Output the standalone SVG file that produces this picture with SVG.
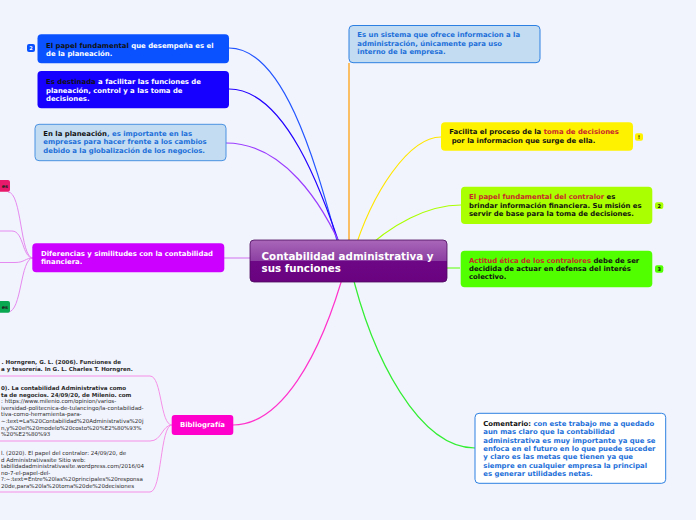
<svg xmlns="http://www.w3.org/2000/svg" width="696" height="520" viewBox="0 0 696 520">
<defs>
<linearGradient id="cg" x1="0" y1="0" x2="0" y2="1">
<stop offset="0" stop-color="#a967b9"/>
<stop offset="0.5" stop-color="#8c3fa2"/>
<stop offset="0.5" stop-color="#6e0785"/>
<stop offset="1" stop-color="#6a0280"/>
</linearGradient>
</defs>
<style>
.t{font-family:"DejaVu Sans",Verdana,sans-serif;font-weight:bold;font-size:6.9px}
.bib{font-family:"DejaVu Sans",Verdana,sans-serif;font-size:5.55px;fill:#2a2a2a}
.bb{font-weight:bold}
.w{fill:#ffffff}
.k{fill:#111111}
.b{fill:#1c6fd9}
.r{fill:#c8282a}
.c{fill:none;stroke-width:1.2}
.badge{font-family:"DejaVu Sans",Verdana,sans-serif;font-weight:bold;font-size:5px;text-anchor:middle}
</style>
<rect width="696" height="520" fill="#f2f4fd"/>

<g id="connectors">
<path class="c" stroke="#2255ff" d="M229,48 C290,48 322,190 342,258"/>
<path class="c" stroke="#2200ff" d="M229,89 C285,89 322,190 344,258"/>
<path class="c" stroke="#9a3cff" d="M226,143 C282,143 322,200 346,258"/>
<path class="c" stroke="#ff9900" d="M349,63 L349,258"/>
<path class="c" stroke="#ffe600" d="M352,258 C372,190 410,137 441,137"/>
<path class="c" stroke="#aaff00" d="M356,258 C392,222 430,205 461,205"/>
<path class="c" stroke="#55ff00" d="M400,268 L460,268"/>
<path class="c" stroke="#33ee33" d="M350,265 C372,360 420,448 475,448"/>
<path class="c" stroke="#ff33cc" d="M346,265 C320,360 280,425 233,425"/>
<path class="c" stroke="#d070f0" d="M224,258 L262,258"/>
<g stroke="#e58af0" fill="none" stroke-width="1">
<path d="M33,258 C20,258 22,192 8,192"/>
<path d="M33,258 C22,258 24,231 12,231 L0,231"/>
<path d="M33,258 C25,258 25,262.5 15,262.5 L0,262.5"/>
<path d="M33,258 C20,258 22,312 8,312"/>
</g>
<g stroke="#f590e8" fill="none" stroke-width="1">
<path d="M172,425 C160,425 162,376 150,376 L0,376"/>
<path d="M172,425 C162,425 162,441 150,441 L0,441"/>
<path d="M172,425 C160,425 162,492 150,492 L0,492"/>
</g>
</g>

<g id="center">
<rect x="250" y="240" width="197" height="42" rx="4" fill="url(#cg)" stroke="#4d0a5e" stroke-width="0.8"/>
<text x="261.5" y="259.5" font-family="DejaVu Sans,Verdana,sans-serif" font-weight="bold" font-size="10.3" fill="#ffffff">Contabilidad administrativa y</text>
<text x="261.5" y="271.5" font-family="DejaVu Sans,Verdana,sans-serif" font-weight="bold" font-size="10.3" fill="#ffffff">sus funciones</text>
</g>

<g id="n-papel">
<rect x="37.5" y="34.3" width="191.5" height="29" rx="4" fill="#0a52ff"/>
<text class="t" x="46" y="47.5"><tspan class="k">El papel fundamental</tspan><tspan class="w"> que desempeña es el</tspan></text>
<text class="t w" x="46" y="56">de la planeación.</text>
<rect x="27" y="44" width="8" height="8" rx="2" fill="#0a52ff"/>
<text class="badge w" x="31" y="50">2</text>
</g>

<g id="n-destinada">
<rect x="37.5" y="71" width="191.5" height="37.3" rx="4" fill="#1600ff"/>
<text class="t" x="46" y="84.3"><tspan class="k">Es destinada</tspan><tspan class="w"> a facilitar las funciones de</tspan></text>
<text class="t w" x="46" y="92.7">planeación, control y a las toma de</text>
<text class="t w" x="46" y="101">decisiones.</text>
</g>

<g id="n-planeacion">
<rect x="35" y="124.3" width="191" height="36.4" rx="4" fill="#c3dcf2" stroke="#4a92e2" stroke-width="1"/>
<text class="t" x="43.3" y="135.7"><tspan class="k">En la planeación</tspan><tspan class="b">, es importante en las</tspan></text>
<text class="t b" x="43.3" y="144.3">empresas para hacer frente a los cambios</text>
<text class="t b" x="43.3" y="152.7">debido a la globalización de los negocios.</text>
</g>

<g id="n-sistema">
<rect x="349" y="25.5" width="191" height="37.2" rx="4" fill="#c3dcf2" stroke="#2c80e2" stroke-width="1"/>
<text class="t b" x="357.3" y="37.3">Es un sistema que ofrece informacion a la</text>
<text class="t b" x="357.3" y="46">administración, únicamente para uso</text>
<text class="t b" x="357.3" y="54.3">interno de la empresa.</text>
</g>

<g id="n-facilita">
<rect x="441" y="122.3" width="192" height="28.4" rx="4" fill="#fff200"/>
<text class="t" x="449.3" y="134.3"><tspan class="k">Facilita el proceso de la </tspan><tspan class="r">toma de decisiones</tspan></text>
<text class="t k" x="451.7" y="143.3">por la informacion que surge de ella.</text>
<rect x="635" y="133.3" width="8" height="7.4" rx="2" fill="#fff200"/>
<text class="badge k" x="639" y="139">!</text>
</g>

<g id="n-contralor">
<rect x="461" y="186.7" width="191.3" height="37.3" rx="4" fill="#aaff00"/>
<text class="t" x="469" y="199.3"><tspan class="r">El papel fundamental del contralor</tspan><tspan class="k"> es</tspan></text>
<text class="t k" x="469" y="207.7">brindar información financiera. Su misión es</text>
<text class="t k" x="469" y="216">servir de base para la toma de decisiones.</text>
<rect x="655" y="202.3" width="8.3" height="6.8" rx="2" fill="#aaff00"/>
<text class="badge k" x="659.2" y="207.7">2</text>
</g>

<g id="n-actitud">
<rect x="460.7" y="250.7" width="191.6" height="36.6" rx="4" fill="#52ff00"/>
<text class="t" x="469" y="262.7"><tspan class="r">Actitud ética de los contralores</tspan><tspan class="k"> debe de ser</tspan></text>
<text class="t k" x="469" y="271.3">decidida de actuar en defensa del interés</text>
<text class="t k" x="469" y="279.3">colectivo.</text>
<rect x="655" y="265.3" width="8.3" height="7.4" rx="2" fill="#52ff00"/>
<text class="badge k" x="659.2" y="271">3</text>
</g>

<g id="n-comentario">
<rect x="475" y="413.3" width="190.7" height="70" rx="4" fill="#ffffff" stroke="#2c80e2" stroke-width="1"/>
<text class="t" x="483.3" y="426"><tspan class="k">Comentario:</tspan><tspan class="b"> con este trabajo me a quedado</tspan></text>
<text class="t b" x="483.3" y="434.3">aun mas claro que la contabilidad</text>
<text class="t b" x="483.3" y="442.7">administrativa es muy importante ya que se</text>
<text class="t b" x="483.3" y="451">enfoca en el futuro en lo que puede suceder</text>
<text class="t b" x="483.3" y="459.3">y claro es las metas que tienen ya que</text>
<text class="t b" x="483.3" y="467.7">siempre en cualquier empresa la principal</text>
<text class="t b" x="483.3" y="476">es generar utilidades netas.</text>
</g>

<g id="n-diferencias">
<rect x="32.3" y="243.3" width="192" height="29" rx="4" fill="#cc00ff"/>
<text class="t w" x="41" y="255.7">Diferencias y similitudes con la contabilidad</text>
<text class="t w" x="41" y="264.3">financiera.</text>
</g>

<g id="n-small-1">
<rect x="-4" y="180" width="14" height="11.7" rx="2" fill="#e8186a"/>
<text x="8" y="187.8" font-family="DejaVu Sans,sans-serif" font-weight="bold" font-size="5" fill="#222" text-anchor="end">es</text>
</g>
<g id="n-small-2">
<rect x="-4" y="301" width="14" height="11.7" rx="2" fill="#0aa850"/>
<text x="8" y="308.8" font-family="DejaVu Sans,sans-serif" font-weight="bold" font-size="5" fill="#222" text-anchor="end">es</text>
</g>

<g id="n-bibliografia">
<rect x="171.7" y="415" width="61.6" height="20" rx="3" fill="#ff00cc"/>
<text class="t w" x="202.5" y="427.3" text-anchor="middle">Bibliografía</text>
</g>

<g id="bib-1">
<text class="bib bb" x="1.5" y="363.5">. Horngren, G. L. (2006). Funciones de</text>
<text class="bib bb" x="1" y="370.5">a y tesorería. In G. L. Charles T. Horngren.</text>
</g>
<g id="bib-2">
<text class="bib bb" x="1" y="390">0). La contabilidad Administrativa como</text>
<text class="bib bb" x="1" y="396.6">ta de negocios. 24/09/20, de Milenio. com</text>
<text class="bib" x="1" y="403.2">: https://www.milenio.com/opinion/varios-</text>
<text class="bib" x="1" y="409.8">iversidad-politecnica-de-tulancingo/la-contabilidad-</text>
<text class="bib" x="1" y="416.4">tiva-como-herramienta-para-</text>
<text class="bib" x="1" y="423">~:text=La%20Contabilidad%20Administrativa%20j</text>
<text class="bib" x="1" y="429.6">n,y%20el%20modelo%20costo%20%E2%80%93%</text>
<text class="bib" x="1" y="436.2">%20%E2%80%93</text>
</g>
<g id="bib-3">
<text class="bib" x="1" y="455">l. (2020). El papel del contralor: 24/09/20, de</text>
<text class="bib" x="1" y="461.5">d Administrativasite Sitio web:</text>
<text class="bib" x="1" y="468">tabilidadadministrativasite.wordpress.com/2016/04</text>
<text class="bib" x="1" y="474.5">no-7-el-papel-del-</text>
<text class="bib" x="1" y="481">?:~:text=Entre%20las%20principales%20responsa</text>
<text class="bib" x="1" y="487.5">20de,para%20la%20toma%20de%20decisiones</text>
</g>
</svg>
